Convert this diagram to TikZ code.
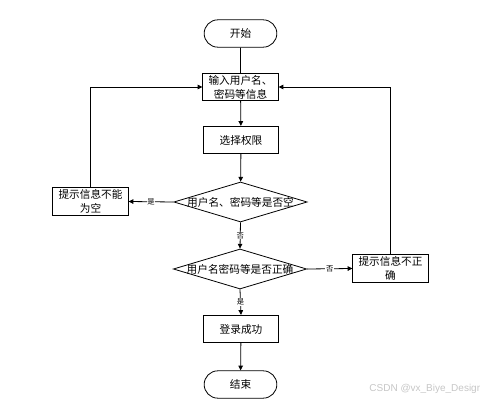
\documentclass[tikz,border=0pt]{standalone}
\usepackage{fontspec}
\setmainfont{Noto Sans CJK SC}
\newfontfamily\wmfont{Liberation Sans}
\usetikzlibrary{arrows.meta,shapes.geometric,shapes.misc}
\tikzset{
  blk/.style={draw,rectangle,minimum width=56.5pt,minimum height=20.5pt,inner sep=1pt,
    align=center,font=\fontsize{8}{10.5}\selectfont},
  term/.style={blk,rounded rectangle},
  dia/.style={draw,diamond,minimum width=100pt,minimum height=30pt,inner sep=0pt},
  diatext/.style={font=\fontsize{8}{10}\selectfont,inner sep=0pt},
  lbl/.style={fill=white,inner sep=0.6pt,font=\fontsize{5.5}{6}\selectfont},
}
\begin{document}
\begin{tikzpicture}[x=0.75pt,y=-0.75pt,line width=0.6pt,
    >={Triangle[length=3.6pt,width=3.4pt]}]
      \useasboundingbox (0,0) rectangle (486,406);
      \draw
        (240.5,33.5) node[term] (start){开始}
        (240.5,87) node[blk] (input){输入用户名、\\密码等信息}
        (241,140) node[blk] (role){选择权限}
        (240.5,202) node[dia,label={[diatext]center:用户名、密码等是否空}] (empty){}
        (240,269) node[dia,label={[diatext]center:用户名密码等是否正确}] (check){}
        (90.5,201.5) node[blk] (tipempty){提示信息不能\\为空}
        (390.5,268.5) node[blk,minimum height=21.5pt] (tipwrong){提示信息不正\\确}
        (241,329) node[blk] (ok){登录成功}
        (240.5,384.5) node[term] (stop){结束};
      \draw (start) to (input);
      \begin{scope}[->]
        \draw (input) to (role);
        \draw (role) to (empty);
        \draw (empty.west) to node[lbl]{是} (tipempty.east);
        \draw (tipempty.north) |- (input.west);
        \draw (empty.south) to node[lbl]{否} (check.north);
        \draw (check.east) to node[lbl]{否} (tipwrong.west);
        \draw (tipwrong.north) |- (input.east);
        \draw (check.south) to node[lbl]{是} (ok.north);
        \draw (ok) to (stop);
      \end{scope}
      \node[anchor=east,text=gray!45,font=\wmfont\fontsize{7.5}{9}\selectfont] (mark) at (485,389) {CSDN @vx\_Biye\_Desigr};
    \end{tikzpicture}
\end{document}
